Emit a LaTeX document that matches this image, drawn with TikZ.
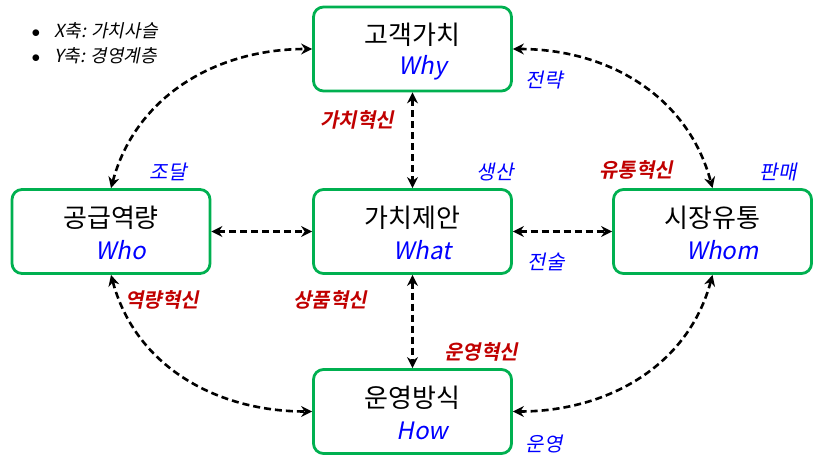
\documentclass[tikz,border=0pt]{standalone}
\usepackage{fontspec}
\setmainfont[AutoFakeSlant=0.2,BoldItalicFont={Noto Sans CJK KR Bold},BoldItalicFeatures={FakeSlant=0.2}]{Noto Sans CJK KR}
\usetikzlibrary{arrows.meta}
\definecolor{gr}{RGB}{0,176,80}
\definecolor{rd}{RGB}{192,0,0}
\begin{document}
\begin{tikzpicture}[x=1pt,y=-1pt,
 box/.style={draw=gr,line width=2.8pt,rounded corners=10pt,minimum width=198pt,minimum height=84pt,inner sep=0pt},
 arr/.style={line width=2.6pt,dash pattern=on 7pt off 4pt,{Stealth[length=11pt,width=11pt]}-{Stealth[length=11pt,width=11pt]}},
 bl/.style={text=blue,font=\fontsize{20}{22}\selectfont\itshape},
 rl/.style={text=rd,font=\fontsize{20}{22}\selectfont\bfseries\itshape},
 ko/.style={font=\fontsize{26}{28}\selectfont},
 en/.style={text=blue,font=\fontsize{24}{26}\selectfont\itshape}]
\useasboundingbox (0,0) rectangle (825,466);
\newcommand{\bx}[4]{\node[box] (#1) at (#2) {};
 \node[ko] (#1k) at ([yshift=14pt]#1.center) {#3};
 \node[en] (#1e) at ([xshift=10pt,yshift=-19pt]#1.center) {#4};}
\bx{top}{412.5,49}{고객가치}{Why}
\bx{lef}{111,231.5}{공급역량}{Who}
\bx{cen}{412.5,231.5}{가치제안}{What}
\bx{rig}{712.5,231.5}{시장유통}{Whom}
\bx{bot}{412.5,411.5}{운영방식}{How}
\draw[arr] (top.south) -- (cen.north);
\draw[arr] (cen.south) -- (bot.north);
\draw[arr] (lef.east) -- (cen.west);
\draw[arr] (cen.east) -- (rig.west);
\draw[arr] (lef.north) to[out=75,in=180] (top.west);
\draw[arr] (top.east) to[out=0,in=105] (rig.north);
\draw[arr] (lef.south) to[out=-75,in=180] (bot.west);
\draw[arr] (bot.east) to[out=0,in=-105] (rig.south);
\node[bl] (l1) at (168,172) {조달};
\node[bl] (l2) at (495,172) {생산};
\node[bl] (l3) at (778,172) {판매};
\node[bl] (l4) at (544,80) {전략};
\node[bl] (l5) at (546,262) {전술};
\node[bl] (l6) at (544,444) {운영};
\node[rl] (r1) at (357,120) {가치혁신};
\node[rl] (r2) at (636,170) {유통혁신};
\node[rl] (r3) at (162,300) {역량혁신};
\node[rl] (r4) at (330,300) {상품혁신};
\node[rl] (r5) at (481,352) {운영혁신};
\node[anchor=west,font=\fontsize{18}{20}\selectfont\itshape] (g1) at (28,31) {$\bullet$\hspace{14pt}X축: 가치사슬};
\node[anchor=west,font=\fontsize{18}{20}\selectfont\itshape] (g2) at (28,56) {$\bullet$\hspace{14pt}Y축: 경영계층};
\end{tikzpicture}
\end{document}
